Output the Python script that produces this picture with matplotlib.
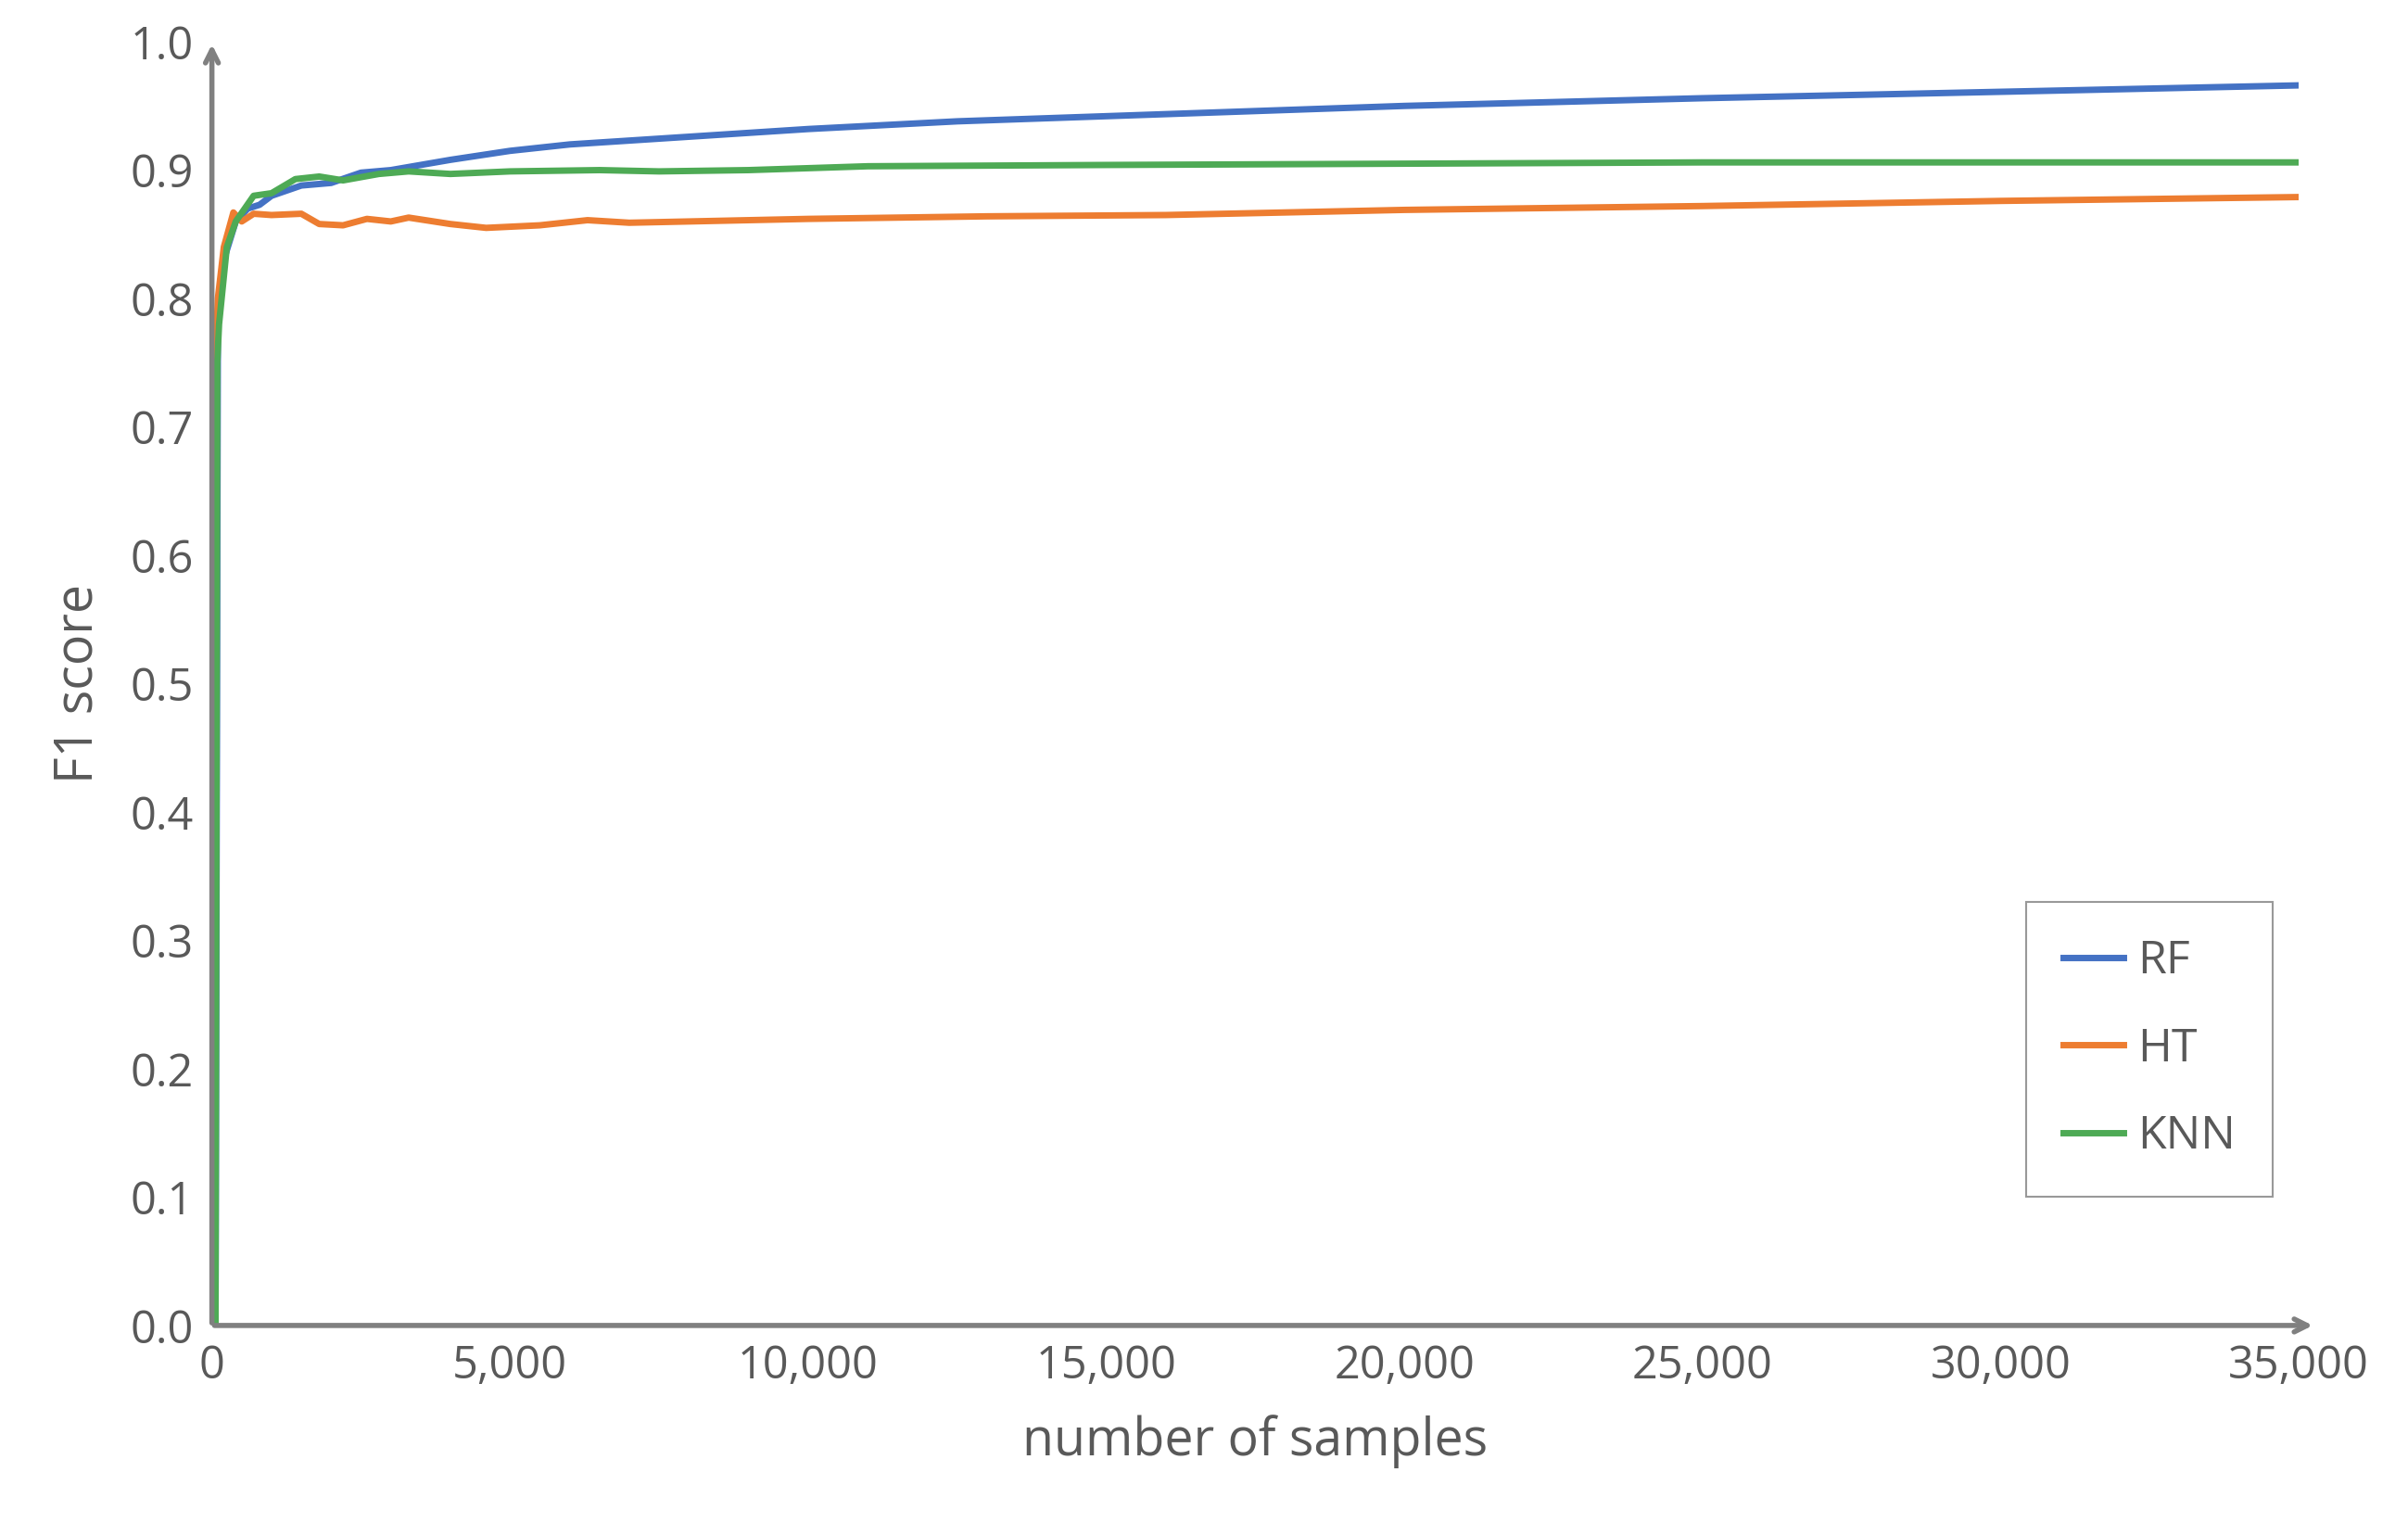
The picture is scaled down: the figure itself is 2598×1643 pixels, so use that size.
import matplotlib
matplotlib.use("Agg")
import matplotlib.pyplot as plt

rf_x = [0, 40, 60, 100, 200, 400, 600, 800, 1000, 1500, 2000, 2500, 3000, 4000, 5000, 6000, 8000, 10000, 12500, 15000, 20000, 25000, 30000, 35000]
rf_y = [0, 0.75, 0.0, 0.78, 0.83, 0.86, 0.87, 0.873, 0.88, 0.888, 0.89, 0.898, 0.9, 0.908, 0.915, 0.92, 0.926, 0.932, 0.938, 0.942, 0.95, 0.956, 0.961, 0.966]
ht_x = [0, 10, 60, 100, 200, 360, 500, 700, 1000, 1500, 1800, 2200, 2600, 3000, 3300, 4000, 4600, 5500, 6300, 7000, 8000, 10000, 13000, 16000, 20000, 25000, 30000, 35000]
ht_y = [0, 0.755, 0.755, 0.80, 0.84, 0.867, 0.86, 0.866, 0.865, 0.866, 0.858, 0.857, 0.862, 0.86, 0.863, 0.858, 0.855, 0.857, 0.861, 0.859, 0.86, 0.862, 0.864, 0.865, 0.869, 0.872, 0.876, 0.879]
knn_x = [0, 30, 60, 90, 120, 250, 400, 700, 1000, 1400, 1800, 2200, 2800, 3300, 4000, 5000, 6500, 7500, 9000, 11000, 15000, 20000, 25000, 35000]
knn_y = [0, 0.75, 0, 0.75, 0.78, 0.84, 0.86, 0.88, 0.882, 0.893, 0.895, 0.892, 0.897, 0.899, 0.897, 0.899, 0.9, 0.899, 0.9, 0.903, 0.904, 0.905, 0.906, 0.906]

plt.rcParams['font.family'] = ['Open Sans', 'DejaVu Sans']
fig = plt.figure(figsize=(25.98, 16.43), dpi=100)
ax = fig.add_axes([0.088, 0.1297, 0.8666, 0.8429])
ax.plot(rf_x, rf_y, color='#4472C4', lw=5, label='RF')
ax.plot(ht_x, ht_y, color='#ED7D31', lw=5, label='HT')
ax.plot(knn_x, knn_y, color='#4EAA55', lw=5, label='KNN')
ax.set_xlim(0, 35000)
ax.set_ylim(0, 1.0)
for s in ax.spines.values():
    s.set_visible(False)
grey = '#808080'
ax.annotate('', xy=(1.008, 0), xytext=(0, 0), xycoords='axes fraction',
            arrowprops=dict(arrowstyle='->,head_length=1.0,head_width=0.5', color=grey, lw=4), annotation_clip=False)
ax.annotate('', xy=(0, 1.0), xytext=(0, 0), xycoords='axes fraction',
            arrowprops=dict(arrowstyle='->,head_length=1.0,head_width=0.5', color=grey, lw=4), annotation_clip=False)
ax.set_xticks(range(0, 35001, 5000))
ax.set_xticklabels([f'{v:,}' for v in range(0, 35001, 5000)])
ax.set_yticks([i / 10 for i in range(11)])
ax.set_yticklabels([f'{i/10:.1f}' for i in range(11)])
ax.tick_params(length=0, labelsize=35, colors='#595959', pad=14)
ax.set_xlabel('number of samples', fontsize=40, color='#595959', labelpad=20)
ax.set_ylabel('F1 score', fontsize=40, color='#595959', labelpad=20)
leg = ax.legend(loc='lower right', bbox_to_anchor=(0.9875, 0.1), borderaxespad=0, fontsize=36, frameon=True,
                fancybox=False, edgecolor='#808080', handlelength=1.3, handletextpad=0.3,
                labelspacing=0.9, borderpad=0.8, labelcolor='#595959')
leg.get_frame().set_linewidth(1.5)
fig.savefig('out.png', dpi=100)
